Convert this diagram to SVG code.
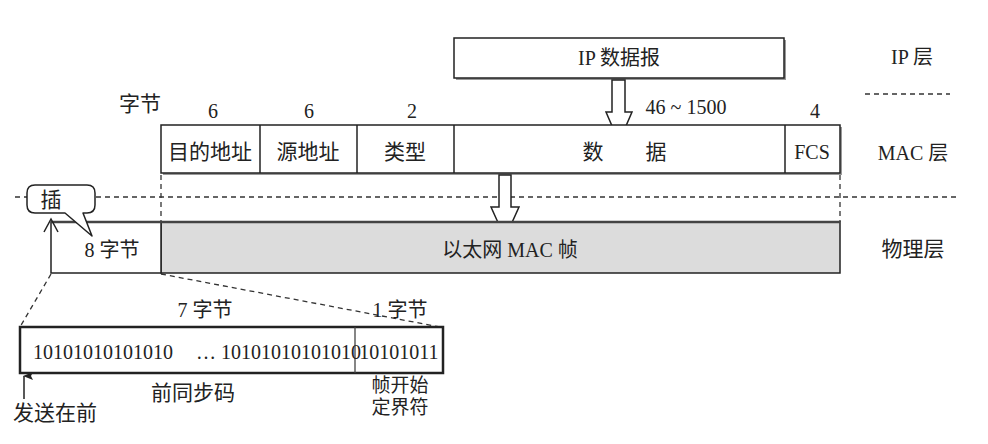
<svg xmlns="http://www.w3.org/2000/svg" width="988" height="444" viewBox="0 0 988 444">
<style>
text{font-family:"Liberation Serif","Noto Sans CJK SC",serif;font-size:20px;fill:#222;text-anchor:middle;dominant-baseline:central}
.cj{font-size:21px}
.sm{font-size:19px}
.box{fill:#fff;stroke:#222;stroke-width:1.5}
.sh{fill:#999}
.dash{fill:none;stroke:#333;stroke-width:1.3;stroke-dasharray:5,4}
.ln{fill:none;stroke:#222;stroke-width:1.5}
.hol{fill:#fff;stroke:#222;stroke-width:1.5;stroke-linejoin:miter}
</style>
<defs>
<marker id="ah" markerWidth="8" markerHeight="10" refX="4" refY="1" orient="auto-start-reverse" markerUnits="userSpaceOnUse"><path d="M0,10 L4,0 L8,10 L4,8 Z" fill="#222"/></marker>
</defs>

<g id="connectors">
<line class="dash" x1="15" y1="197" x2="960" y2="197"/>
<line class="dash" x1="161" y1="175" x2="161" y2="222"/>
<line class="dash" x1="840" y1="175" x2="840" y2="222"/>
<line class="dash" x1="865" y1="94" x2="950" y2="94"/>
<line class="dash" x1="51" y1="274" x2="20" y2="327"/>
<line class="dash" x1="161" y1="274" x2="440" y2="327"/>
<line x1="24" y1="399" x2="24" y2="376" stroke="#222" stroke-width="1.5" marker-end="url(#ah)"/>
</g>

<g id="ip-datagram">
<rect class="sh" x="456" y="40" width="330" height="40"/>
<rect class="box" x="454" y="38" width="330" height="40"/>
<text x="619" y="58">IP 数据报</text>
</g>

<g id="arrow-ip-mac">
<path class="hol" d="M612,80 L625,80 L625,112 L632,112 L619,142 L606,112 L612,112 Z"/>
<text x="686" y="107">46 ~ 1500</text>
</g>

<g id="mac-frame">
<rect class="sh" x="163" y="127" width="679" height="48"/>
<rect class="box" x="161" y="125" width="679" height="48"/>
<line class="ln" x1="260" y1="125" x2="260" y2="173"/>
<line class="ln" x1="357" y1="125" x2="357" y2="173"/>
<line class="ln" x1="454" y1="125" x2="454" y2="173"/>
<line class="ln" x1="785" y1="125" x2="785" y2="173"/>
<text class="cj" x="210" y="152">目的地址</text>
<text class="cj" x="308" y="152">源地址</text>
<text class="cj" x="405" y="152">类型</text>
<text class="cj" x="593" y="152">数</text>
<text class="cj" x="656" y="152">据</text>
<text x="812" y="152">FCS</text>
<text class="cj" x="140" y="104">字节</text>
<text x="213" y="111">6</text>
<text x="309" y="111">6</text>
<text x="412" y="111">2</text>
<text x="815" y="111">4</text>
</g>

<g id="arrow-mac-phy">
<path class="hol" d="M499,175 L511,175 L511,207 L519,207 L505,238 L491,207 L499,207 Z"/>
</g>

<g id="physical-frame">
<rect x="161" y="222" width="679" height="51" fill="#dcdcdc" stroke="#222" stroke-width="1.5"/>
<rect x="51" y="222" width="110" height="51" fill="#fff" stroke="#222" stroke-width="1.5"/>
<line x1="51" y1="222" x2="840" y2="222" stroke="#444" stroke-width="2.5"/>
<text x="112" y="250">8 字节</text>
<text x="510" y="250">以太网 MAC 帧</text>
</g>

<g id="insert-callout">
<polyline class="ln" points="44,232 51,219 58,232"/>
<path d="M35,185 L87,185 Q95,185 95,193 L95,205 Q95,213 87,213 L83,213 L92,236 L65,213 L35,213 Q27,213 27,205 L27,193 Q27,185 35,185 Z" fill="#fff" stroke="#222" stroke-width="1.5" stroke-linejoin="round"/>
<text class="cj" x="51" y="200">插</text>
</g>

<g id="preamble">
<rect x="20" y="327" width="423" height="46" fill="#fff" stroke="#222" stroke-width="2.5"/>
<line x1="355" y1="327" x2="355" y2="373" stroke="#444" stroke-width="1.3"/>
<text x="103" y="352">10101010101010</text>
<text x="206" y="352">…</text>
<text x="291" y="352">10101010101010</text>
<text x="399" y="352">10101011</text>
<text x="205" y="310">7 字节</text>
<text x="400" y="310">1 字节</text>
<text class="cj" x="193" y="393">前同步码</text>
<text class="sm" x="400" y="385">帧开始</text>
<text class="sm" x="400" y="407">定界符</text>
<text class="cj" x="55" y="413">发送在前</text>
</g>

<g id="layer-labels">
<text x="912" y="57">IP 层</text>
<text x="913" y="153">MAC 层</text>
<text class="cj" x="913" y="249">物理层</text>
</g>
</svg>
